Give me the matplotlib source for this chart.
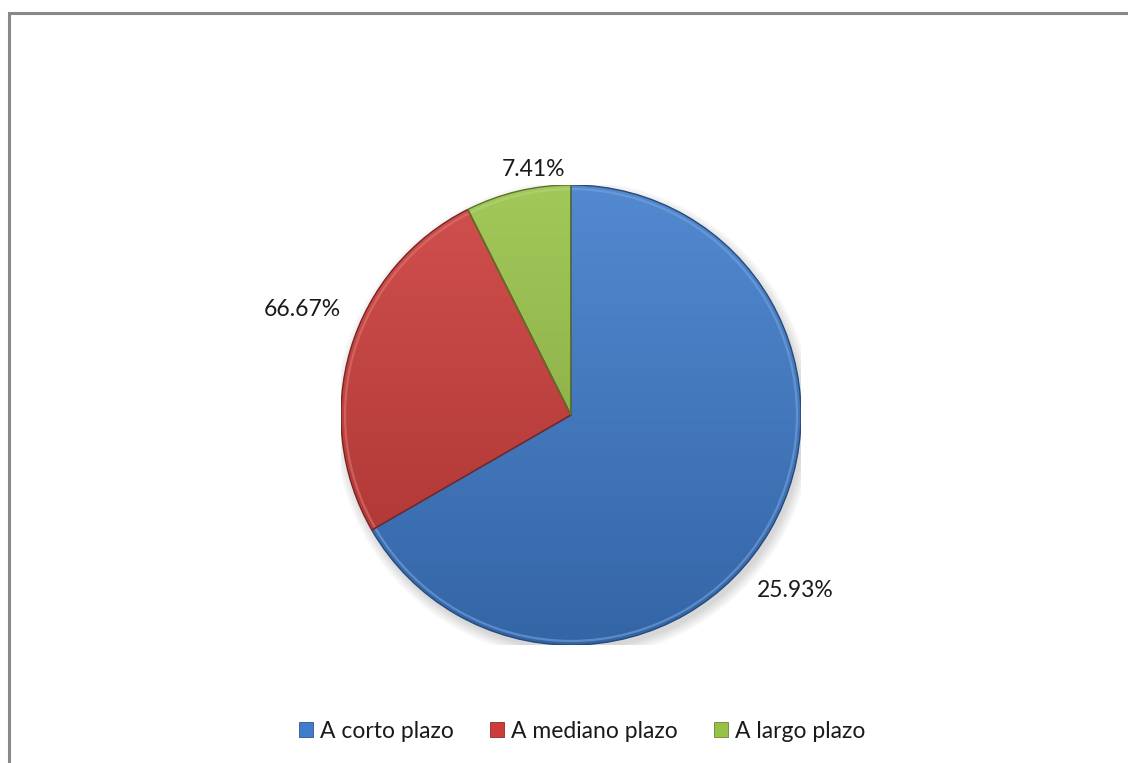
import numpy as np
import matplotlib.pyplot as plt
from matplotlib.patches import Patch, Rectangle, Circle, Wedge, Arc
from matplotlib.colors import to_rgb

# plazo de la deuda
categories = ['A corto plazo', 'A mediano plazo', 'A largo plazo']
values = [66.67, 25.93, 7.41]
label_texts = ['25.93%', '66.67%', '7.41%']
colors = ['#3F7CCB', '#CC3D3A', '#98C247']

plt.rcParams['font.family'] = ['Lato', 'DejaVu Sans']

W, H = 1128, 763
fig = plt.figure(figsize=(W / 100, H / 100), dpi=100)
fig.patch.set_facecolor('white')

# outer frame (only top and left sides are visible)
fig.patches.append(Rectangle((9 / W, -0.1), 1.2, 1.1 - 13 / H, transform=fig.transFigure,
                             fill=False, edgecolor='#888888', linewidth=2.2))

cx, cy, r = 571, 415, 230
ax = fig.add_axes([(cx - r) / W, (H - cy - r) / H, 2 * r / W, 2 * r / H])

# soft drop shadow
for k in range(8):
    ax.add_patch(Circle((0.012, -0.022), 1.0 + 0.006 * k, facecolor='black',
                        alpha=0.018, linewidth=0, zorder=0))

wedges, _ = ax.pie(values, colors=colors, startangle=90, counterclock=False, radius=1.0,
                   wedgeprops=dict(linewidth=0))

# vertical shading clipped to each wedge
yy = np.linspace(1, 0, 256)[:, None]
for w, c in zip(wedges, colors):
    base = np.array(to_rgb(c))
    light = base + (1 - base) * 0.10
    dark = base * 0.82
    grad = light[None, None, :] * yy[..., None] + dark[None, None, :] * (1 - yy[..., None])
    grad = np.repeat(grad, 2, axis=1)
    im = ax.imshow(grad, extent=(-1, 1, -1, 1), zorder=2, aspect='auto')
    im.set_clip_path(w)
    # rim highlight and dark bevel edge
    ax.add_patch(Arc((0, 0), 1.965, 1.965, theta1=w.theta1, theta2=w.theta2,
                     edgecolor=tuple(base + (1 - base) * 0.3), alpha=0.6,
                     linewidth=1.6, zorder=3))
    ax.add_patch(Wedge((0, 0), 1.0, w.theta1, w.theta2, facecolor='none',
                       edgecolor=tuple(base * 0.6), linewidth=1.0, zorder=4))

ax.set_xlim(-1, 1)
ax.set_ylim(-1, 1)
ax.set_aspect('auto')
ax.axis('off')

# data labels
label_pos = [(0.974, -0.761), (-1.17, 0.457), (-0.165, 1.067)]
for txt, (x, y) in zip(label_texts, label_pos):
    ax.text(x, y, txt, ha='center', va='center', fontsize=16.5, color='#1a1a1a')

handles = [Patch(facecolor=c, edgecolor=tuple(np.array(to_rgb(c)) * 0.7), linewidth=0.6)
           for c in colors]
fig.legend(handles, categories, loc='center', bbox_to_anchor=(582 / W, 1 - 731 / H), ncol=3,
           frameon=False, fontsize=16.5, handlelength=0.6, handleheight=0.6,
           handletextpad=0.3, columnspacing=1.6, labelcolor='#1a1a1a')

fig.savefig('out.png', dpi=100)
